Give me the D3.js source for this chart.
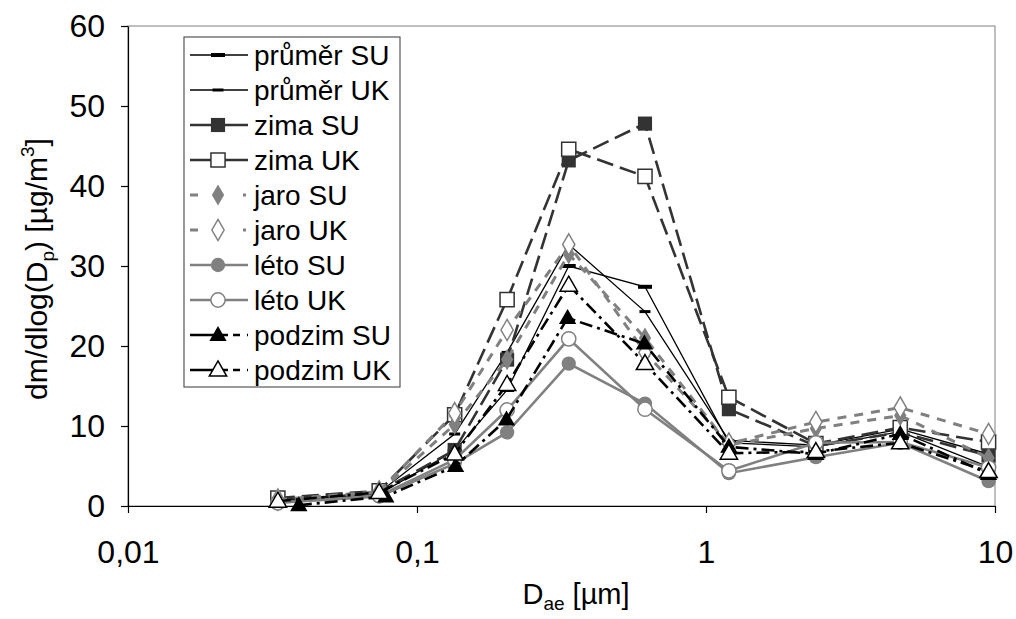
<!DOCTYPE html>
<html>
<head>
<meta charset="utf-8">
<script src="https://cdn.jsdelivr.net/npm/d3@7"></script>
<style>
  html, body { margin: 0; padding: 0; background: #fff; }
  svg { display: block; font-family: "Liberation Sans", Arial, sans-serif; }
</style>
</head>
<body>
<div id="vis"></div>
<script>
// aerodynamic diameters [um]
var dae = [0.033, 0.074, 0.135, 0.205, 0.335, 0.615, 1.2, 2.4, 4.7, 9.5];
var daePodzimSU = [0.039, 0.078, 0.136, 0.204, 0.332, 0.612, 1.2, 2.4, 4.7, 9.5];

var prumerSU = [0.6, 1.5, 6.9, 14.5, 30.0, 27.4, 7.9, 7.4, 9.3, 4.9];
var prumerUK = [0.7, 1.7, 9.0, 19.2, 32.7, 24.3, 8.2, 7.6, 9.6, 6.5];
var zimaSU = [0.9, 1.8, 7.0, 18.3, 43.2, 47.8, 12.1, 7.5, 9.2, 6.3];
var zimaUK = [1.0, 1.9, 11.4, 25.8, 44.6, 41.2, 13.6, 7.8, 9.8, 8.0];
var jaroSU = [0.7, 1.7, 10.2, 18.3, 31.5, 21.0, 7.6, 9.7, 11.3, 6.0];
var jaroUK = [0.8, 1.8, 11.6, 22.0, 32.7, 19.2, 7.8, 10.5, 12.3, 9.0];
var letoSU = [0.4, 1.2, 5.3, 9.2, 17.8, 12.8, 4.1, 6.1, 7.9, 3.1];
var letoUK = [0.4, 1.3, 5.8, 12.0, 20.9, 12.1, 4.4, 7.9, 8.0, 4.8];
var podzimSU = [0.1, 1.2, 5.0, 10.8, 23.5, 20.3, 7.4, 6.5, 9.0, 4.0];
var podzimUK = [0.6, 1.7, 6.5, 15.2, 27.6, 17.8, 6.6, 6.8, 7.9, 4.3];

var xTicks = [0.01, 0.1, 1, 10];
var yTicks = [0, 10, 20, 30, 40, 50, 60];

var series = [
  { name: "průměr SU", x: dae, y: prumerSU, color: "#000", width: 1.3, dash: null, legDash: null, marker: "bar", mw: 14, mh: 4, fill: "#000" },
  { name: "průměr UK", x: dae, y: prumerUK, color: "#000", width: 1.3, dash: null, legDash: null, marker: "bar", mw: 11, mh: 3, fill: "#000" },
  { name: "zima SU", x: dae, y: zimaSU, color: "#333", width: 2.6, dash: "17,7", legDash: null, marker: d3.symbolSquare, size: 200, fill: "#333" },
  { name: "zima UK", x: dae, y: zimaUK, color: "#333", width: 2.6, dash: "17,7", legDash: null, marker: d3.symbolSquare, size: 200, fill: "#fff" },
  { name: "jaro SU", x: dae, y: jaroSU, color: "#808080", width: 3, dash: "9,8", legDash: "8,45,3,10", marker: d3.symbolDiamond, size: 130, fill: "#808080" },
  { name: "jaro UK", x: dae, y: jaroUK, color: "#808080", width: 3, dash: "9,8", legDash: "8,45,3,10", marker: d3.symbolDiamond, size: 130, fill: "#fff" },
  { name: "léto SU", x: dae, y: letoSU, color: "#808080", width: 2.6, dash: null, legDash: null, marker: d3.symbolCircle, size: 160, fill: "#808080" },
  { name: "léto UK", x: dae, y: letoUK, color: "#808080", width: 2.6, dash: null, legDash: null, marker: d3.symbolCircle, size: 160, fill: "#fff" },
  { name: "podzim SU", x: daePodzimSU, y: podzimSU, color: "#000", width: 2.6, dash: "13,5,3,5", legDash: "38,5,7,7,3,20", marker: d3.symbolTriangle, size: 130, fill: "#000" },
  { name: "podzim UK", x: dae, y: podzimUK, color: "#000", width: 2.6, dash: "13,5,3,5", legDash: "38,5,7,7,3,20", marker: d3.symbolTriangle, size: 130, fill: "#fff" }
];

var W = 1016, H = 619;
var margin = { top: 26, right: 21, bottom: 113, left: 128 },
    width = W - margin.left - margin.right,
    height = H - margin.top - margin.bottom;

var svg = d3.select("#vis")
    .append("svg")
    .attr("width", W)
    .attr("height", H);

var g = svg.append("g")
    .attr("transform", "translate(" + margin.left + "," + margin.top + ")");

var x = d3.scaleLog().domain([0.01, 10]).range([0, width]);
var y = d3.scaleLinear().domain([0, 60]).range([height, 0]);

// plot area border
g.append("rect")
    .attr("x", 0).attr("y", 0)
    .attr("width", width).attr("height", height)
    .attr("fill", "none")
    .attr("stroke", "#808080")
    .attr("stroke-width", 1);

// X axis
var xAxis = g.append("g")
    .attr("transform", "translate(0," + height + ")")
    .call(d3.axisBottom(x).tickValues(xTicks).tickSize(7).tickSizeOuter(0)
        .tickFormat(function (d) { return String(d).replace(".", ","); }));
xAxis.selectAll("text")
    .attr("font-size", "32px")
    .attr("fill", "#000")
    .attr("y", 57)
    .attr("dy", 0)
    .style("font-family", "Liberation Sans, Arial, sans-serif");

// Y axis
var yAxis = g.append("g")
    .call(d3.axisLeft(y).tickValues(yTicks).tickSize(7).tickSizeOuter(0));
yAxis.selectAll("text")
    .attr("font-size", "32px")
    .attr("fill", "#000")
    .attr("x", -23)
    .style("font-family", "Liberation Sans, Arial, sans-serif");

svg.selectAll(".domain").attr("stroke", "#000").attr("stroke-width", 1.2);
svg.selectAll(".tick line").attr("stroke", "#000").attr("stroke-width", 1.2);

function drawMarker(sel, s) {
    if (s.marker === "bar") {
        sel.append("rect")
            .attr("x", -s.mw / 2).attr("y", -s.mh / 2)
            .attr("width", s.mw).attr("height", s.mh)
            .attr("fill", s.fill);
    } else {
        sel.append("path")
            .attr("d", d3.symbol().type(s.marker).size(s.size)())
            .attr("fill", s.fill)
            .attr("stroke", s.fill === "#fff" ? s.color : "none")
            .attr("stroke-width", 1.5)
            .attr("transform", s.marker === d3.symbolTriangle ? "translate(0,1)" : null);
    }
}

var line = d3.line()
    .x(function (d) { return x(d[0]); })
    .y(function (d) { return y(d[1]); });

// Lines + markers
series.forEach(function (s) {
    var pts = s.x.map(function (v, i) { return [v, s.y[i]]; });
    g.append("path")
        .datum(pts)
        .attr("d", line)
        .attr("fill", "none")
        .attr("stroke", s.color)
        .attr("stroke-width", s.width)
        .attr("stroke-dasharray", s.dash);
    g.selectAll(null)
        .data(pts)
        .enter()
        .append("g")
        .attr("transform", function (d) { return "translate(" + x(d[0]) + "," + y(d[1]) + ")"; })
        .each(function () { drawMarker(d3.select(this), s); });
});

// Legend
var lg = svg.append("g").attr("transform", "translate(184,37)");
lg.append("rect")
    .attr("width", 216).attr("height", 350)
    .attr("fill", "#fff")
    .attr("stroke", "#555")
    .attr("stroke-width", 1.2);

series.forEach(function (s, i) {
    var row = lg.append("g").attr("transform", "translate(0," + (18 + i * 35) + ")");
    row.append("line")
        .attr("x1", 6).attr("x2", 64)
        .attr("y1", 0).attr("y2", 0)
        .attr("stroke", s.color)
        .attr("stroke-width", s.width)
        .attr("stroke-dasharray", s.legDash);
    drawMarker(row.append("g").attr("transform", "translate(34,0)"), s);
    row.append("text")
        .attr("x", 70).attr("y", 10)
        .attr("font-size", "28px")
        .text(s.name);
});

// Axis titles
var xt = svg.append("text")
    .attr("x", 576).attr("y", 604)
    .attr("text-anchor", "middle")
    .attr("font-size", "29px");
xt.append("tspan").text("D");
xt.append("tspan").attr("font-size", "19px").attr("dy", 6).text("ae");
xt.append("tspan").attr("dy", -6).text(" [µm]");

var yt = svg.append("text")
    .attr("transform", "translate(47,269) rotate(-90)")
    .attr("text-anchor", "middle")
    .attr("font-size", "30px");
yt.append("tspan").text("dm/dlog(D");
yt.append("tspan").attr("font-size", "19px").attr("dy", 7).text("p");
yt.append("tspan").attr("dy", -7).text(")  [µg/m");
yt.append("tspan").attr("font-size", "19px").attr("dy", -13).text("3");
yt.append("tspan").attr("dy", 13).text("]");
</script>
</body>
</html>
